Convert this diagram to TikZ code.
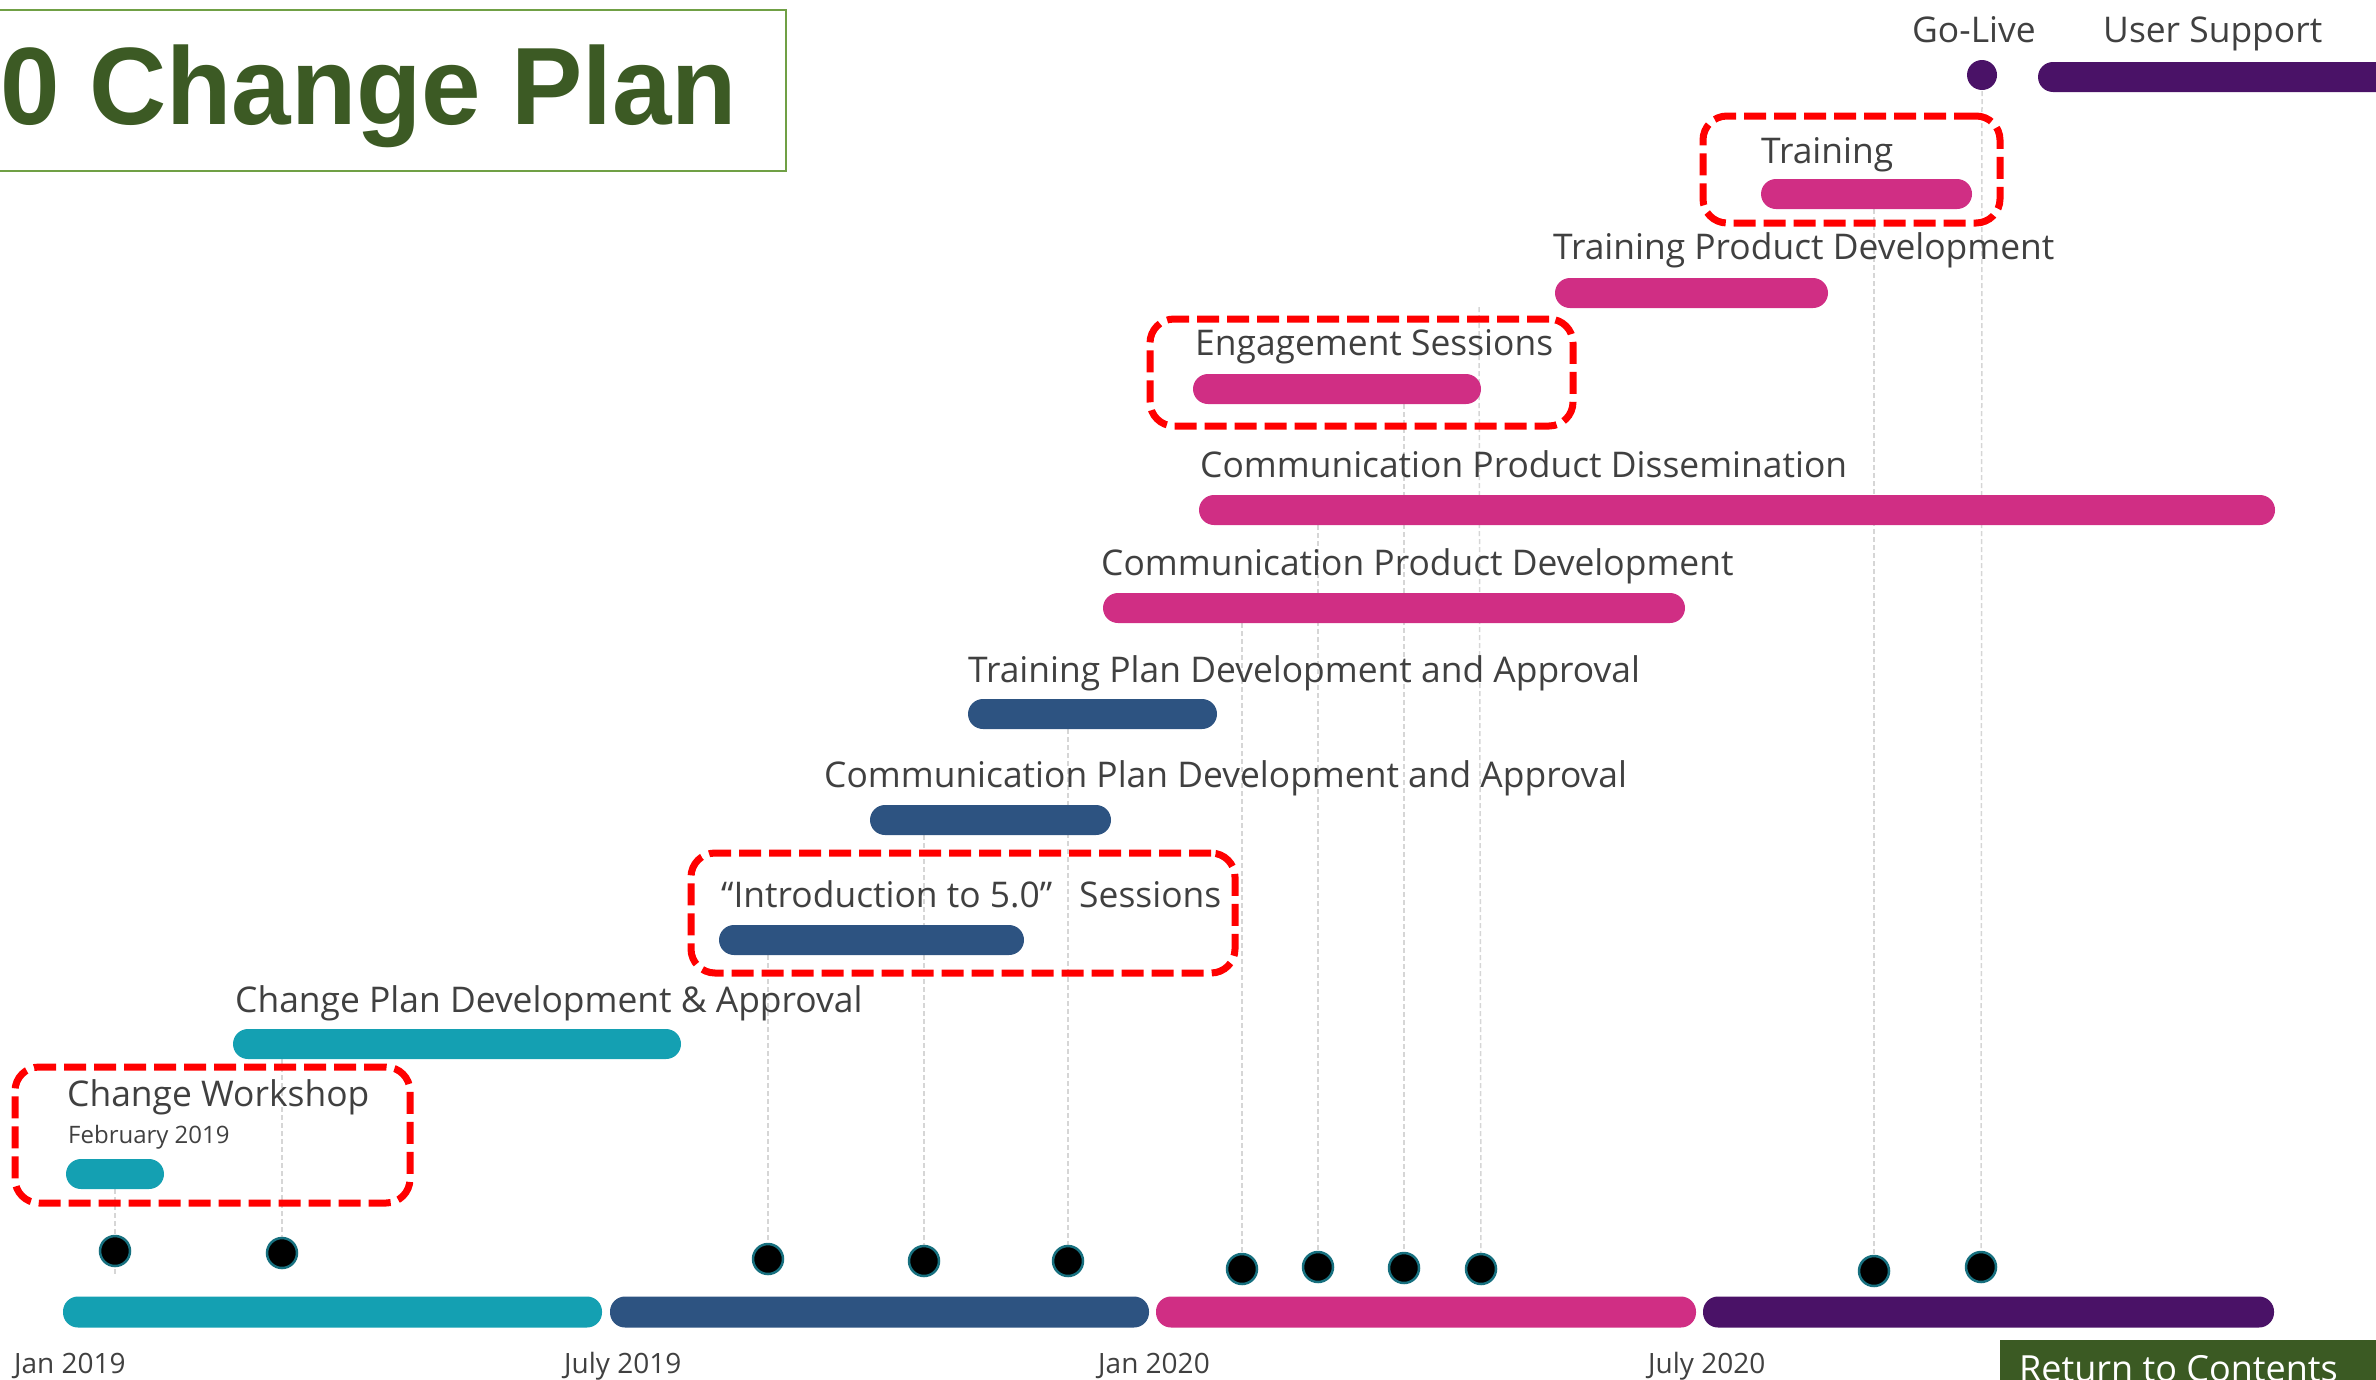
\documentclass[tikz,border=0pt]{standalone}
\usepackage{fontspec}
\usetikzlibrary{backgrounds}
\setmainfont{Open Sans}
\newfontfamily\headfont{Liberation Sans}
\definecolor{cTeal}{HTML}{14A0B2}
\definecolor{cNavy}{HTML}{2D5381}
\definecolor{cPink}{HTML}{D02E84}
\definecolor{cPurple}{HTML}{4A1267}
\definecolor{cText}{HTML}{404040}
\definecolor{cHead}{HTML}{3C5A24}
\definecolor{cHeadLine}{HTML}{70A045}
\definecolor{cReturn}{HTML}{3B5A23}
\definecolor{cRing}{HTML}{17707F}
\definecolor{cGuide}{HTML}{D6D6D6}
\tikzset{
  bar/.style={rectangle, rounded corners=15pt, minimum height=30pt, inner sep=0pt, draw=none},
  axisbar/.style={bar, minimum height=31pt},
  lbl/.style={anchor=base west, inner sep=0pt, text=cText, font=\fontsize{35.4}{40}\selectfont},
  sublbl/.style={lbl, font=\fontsize{24}{28}\selectfont},
  datelbl/.style={lbl, font=\fontsize{28}{32}\selectfont},
  milestone/.style={circle, fill=black, draw=cRing, line width=2.5pt, minimum size=30pt, inner sep=0pt},
  focus/.style={rectangle, draw=red, line width=7pt, dash pattern=on 22pt off 8pt, rounded corners=24pt, inner sep=0pt},
  guide/.style={draw=cGuide, line width=1.5pt, dash pattern=on 5pt off 3pt},
}
\begin{document}
\begin{tikzpicture}[x=1pt,y=-1pt]
\useasboundingbox (0,0) rectangle (2376,1379);

% title panel
\node[rectangle, draw=cHeadLine, line width=2pt, minimum width=820pt, minimum height=161pt, inner sep=0pt] (titlebox) at (376,90.5) {};
\node[anchor=base west, inner sep=0pt, text=cHead, font=\headfont\bfseries\fontsize{110}{120}\selectfont] (title) at (0,124) {\scalebox{0.972}[1]{0 Change Plan}};

% return button
\node[rectangle, fill=cReturn, minimum width=400pt, minimum height=60pt, inner sep=0pt, anchor=north west] (retbox) at (2000,1340) {};
\node[anchor=base west, inner sep=0pt, text=white, font=\fontsize{36}{40}\selectfont] (ret) at (2019,1381) {Return to Contents};

% milestone markers on the time axis
\node[milestone] (d1) at (115,1251) {};
\node[milestone] (d2) at (282,1253) {};
\node[milestone] (d3) at (768,1259) {};
\node[milestone] (d4) at (924,1261) {};
\node[milestone] (d5) at (1068,1261) {};
\node[milestone] (d6) at (1242,1269) {};
\node[milestone] (d7) at (1318,1267) {};
\node[milestone] (d8) at (1404,1268) {};
\node[milestone] (d9) at (1481,1269) {};
\node[milestone] (d10) at (1874,1271) {};
\node[milestone] (d11) at (1981,1267) {};

% activity bars
\node[bar, fill=cPurple, minimum width=382pt] (support) at (2229,77) {};
\node[circle, fill=cPurple, minimum size=30pt, inner sep=0pt] (golive) at (1982,75) {};
\node[bar, fill=cPink, minimum width=211pt] (training) at (1866.5,194) {};
\node[bar, fill=cPink, minimum width=273pt] (tpd) at (1691.5,293) {};
\node[bar, fill=cPink, minimum width=288pt] (engage) at (1337,389) {};
\node[bar, fill=cPink, minimum width=1076pt] (dissem) at (1737,510) {};
\node[bar, fill=cPink, minimum width=582pt] (cpd) at (1394,608) {};
\node[bar, fill=cNavy, minimum width=249pt] (trplan) at (1092.5,714) {};
\node[bar, fill=cNavy, minimum width=241pt] (cmplan) at (990.5,820) {};
\node[bar, fill=cNavy, minimum width=305pt] (intro) at (871.5,940) {};
\node[bar, fill=cTeal, minimum width=448pt] (chplan) at (457,1044) {};
\node[bar, fill=cTeal, minimum width=98pt] (workshop) at (115,1174) {};

% time axis
\node[axisbar, fill=cTeal, minimum width=539pt] (ax1) at (332.5,1312) {};
\node[axisbar, fill=cNavy, minimum width=539pt] (ax2) at (879.5,1312) {};
\node[axisbar, fill=cPink, minimum width=540pt] (ax3) at (1426,1312) {};
\node[axisbar, fill=cPurple, minimum width=571pt] (ax4) at (1988.5,1312) {};

% guide lines from bars down to the markers, kept behind everything
\coordinate (g9) at (1479,307);
\begin{pgfonlayer}{background}
\draw[guide] (d1 |- workshop.south) -- ([yshift=-8pt]d1.south);
\draw[guide] (d2 |- chplan.south) -- (d2.center);
\draw[guide] (d3 |- intro.south) -- (d3.center);
\draw[guide] (d4 |- cmplan.south) -- (d4.center);
\draw[guide] (d5 |- trplan.south) -- (d5.center);
\draw[guide] (d6 |- cpd.south) -- (d6.center);
\draw[guide] (d7 |- dissem.south) -- (d7.center);
\draw[guide] (d8 |- engage.south) -- (d8.center);
\draw[guide] (g9) -- (d9.center);
\draw[guide] (d10 |- training.south) -- (d10.center);
\draw[guide] (golive.center) -- (d11.center);
\end{pgfonlayer}

% labels
\node[lbl] (lLive) at (1912,42) {Go-Live};
\node[lbl] (lSupport) at (2103,42) {User Support};
\node[lbl] (lTraining) at (1761,163) {Training};
\node[lbl] (lTpd) at (1553,259) {Training Product Development};
\node[lbl] (lEngage) at (1195,355) {Engagement Sessions};
\node[lbl] (lDissem) at (1200,477) {Communication Product Dissemination};
\node[lbl] (lCpd) at (1101,575) {Communication Product Development};
\node[lbl] (lTrplan) at (968,682) {Training Plan Development and Approval};
\node[lbl] (lCmplan) at (824,787) {Communication Plan Development and Approval};
\node[lbl] (lIntro) at (721,907) {“Introduction to 5.0”\hspace{27pt}Sessions};
\node[lbl] (lChplan) at (235,1012) {Change Plan Development \& Approval};
\node[lbl] (lWorkshop) at (67,1106) {Change Workshop};
\node[sublbl] (lFeb) at (68,1143) {February 2019};

% axis dates
\node[datelbl] (t1) at (14,1373) {Jan 2019};
\node[datelbl] (t2) at (564,1373) {July 2019};
\node[datelbl] (t3) at (1098,1373) {Jan 2020};
\node[datelbl] (t4) at (1648,1373) {July 2020};

% highlighted activities
\node[focus, minimum width=395pt, minimum height=136pt] (fWorkshop) at (212.5,1135) {};
\node[focus, minimum width=544pt, minimum height=120pt] (fIntro) at (963,913) {};
\node[focus, minimum width=423pt, minimum height=107pt] (fEngage) at (1361.5,372.5) {};
\node[focus, minimum width=297pt, minimum height=107pt] (fTraining) at (1851.5,169.5) {};
\end{tikzpicture}
\end{document}
